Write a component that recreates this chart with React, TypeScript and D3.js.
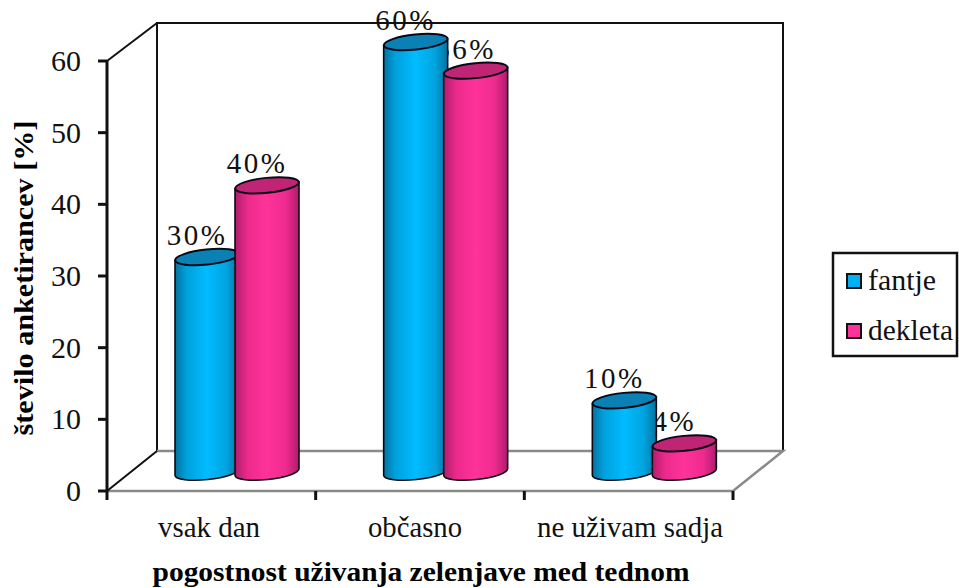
import React from "react";
import * as d3 from "d3";

const categories = ["vsak dan", "občasno", "ne uživam sadja"];
const fantje = [30, 60, 10];
const dekleta = [40, 56, 4];
const yTicks = [0, 10, 20, 30, 40, 50, 60];
const seriesNames = ["fantje", "dekleta"];
const dataLabels = [["30%", "60%", "10%"], ["40%", "56%", "4%"]];

const W = 959, H = 588;
const FRONT_L = 107, FRONT_R = 733, FRONT_B = 491, FRONT_T = 61;
const DX = 50, DY = -40;
const SERIF = "'Liberation Serif', 'Times New Roman', serif";

const y = d3.scaleLinear().domain([0, 60]).range([FRONT_B, FRONT_T]);
const x0 = d3.scaleBand<string>().domain(categories).range([FRONT_L, FRONT_R]);
const seriesStep = 60;
const cylW = 64;
const groupInset = 68;
const baseLift = 19;
const tiltDeg = -6;

function Cylinder({ left, value, id, cap }: { left: number; value: number; id: string; cap: string }) {
  const rx = cylW / 2;
  const ry = 7.5;
  const t = rx * Math.tan((-tiltDeg * Math.PI) / 180);
  const cy = y(value) - baseLift;
  const by = y(0) - baseLift;
  const cx = left + rx;
  const r = left + cylW;
  const body = `M${left},${cy + t} L${left},${by + t} A${rx},${ry} ${tiltDeg} 0 0 ${r},${by - t} L${r},${cy - t} Z`;
  return (
    <g stroke="#0a0a14" strokeWidth={1.6}>
      <path d={body} fill={`url(#${id})`} />
      <ellipse cx={cx} cy={cy} rx={rx} ry={ry} fill={cap} strokeWidth={2} transform={`rotate(${tiltDeg} ${cx} ${cy})`} />
    </g>
  );
}

export default function App() {
  const groupLeft = (c: string) => (x0(c) as number) + groupInset;
  const labelFor = (s: number, i: number) => {
    const v = (s === 0 ? fantje : dekleta)[i];
    const left = groupLeft(categories[i]) + s * seriesStep;
    return (
      <text key={`${s}-${i}`} x={left + cylW / 2 - 10} y={y(v) - baseLift - 12} textAnchor="middle"
        fontSize={29} letterSpacing={2.5} fill="#111">
        {dataLabels[s][i]}
      </text>
    );
  };
  const xTicks = [...categories.map((c) => x0(c) as number), FRONT_R];
  return (
    <svg width={W} height={H} style={{ position: "absolute", left: 0, top: 0, background: "#fff" }} fontFamily={SERIF}>
      <defs>
        <linearGradient id="blueBody" x1="0" x2="1" y1="0" y2="0">
          <stop offset="0" stopColor="#04729f" />
          <stop offset="0.18" stopColor="#00a0dc" />
          <stop offset="0.5" stopColor="#00bcff" />
          <stop offset="0.8" stopColor="#00a4e0" />
          <stop offset="1" stopColor="#05729f" />
        </linearGradient>
        <linearGradient id="pinkBody" x1="0" x2="1" y1="0" y2="0">
          <stop offset="0" stopColor="#b01c6c" />
          <stop offset="0.2" stopColor="#ec2a8c" />
          <stop offset="0.5" stopColor="#ff3399" />
          <stop offset="0.8" stopColor="#ee2a8e" />
          <stop offset="1" stopColor="#ae1c6c" />
        </linearGradient>
      </defs>

      {/* back wall */}
      <path d={`M${FRONT_L + DX},${FRONT_B + DY} V23 H${FRONT_R + DX} V${FRONT_B + DY}`}
        fill="none" stroke="#111" strokeWidth={2} />
      {/* floor */}
      <path d={`M${FRONT_L + DX},${FRONT_B + DY} H${FRONT_R + DX} L${FRONT_R},${FRONT_B} H${FRONT_L}`}
        fill="none" stroke="#8a8a8a" strokeWidth={2.5} />
      <line x1={FRONT_L} y1={FRONT_B} x2={FRONT_L + DX} y2={FRONT_B + DY} stroke="#111" strokeWidth={2} />
      <line x1={FRONT_L} y1={FRONT_T} x2={FRONT_L + DX} y2={23} stroke="#111" strokeWidth={2} />

      {/* axes and ticks */}
      <line x1={FRONT_L} x2={FRONT_L} y1={FRONT_T} y2={FRONT_B} stroke="#111" strokeWidth={3} />
      {yTicks.map((t) => (
        <g key={t}>
          <line x1={FRONT_L - 9} x2={FRONT_L} y1={y(t)} y2={y(t)} stroke="#111" strokeWidth={3} />
          <text x={81} y={y(t) + 10} textAnchor="end" fontSize={30} fill="#111">{t}</text>
        </g>
      ))}
      {xTicks.map((t) => (
        <line key={t} x1={t} x2={t} y1={FRONT_B} y2={FRONT_B + 9} stroke="#111" strokeWidth={3} />
      ))}

      {/* the 56% label sits behind the neighbouring blue column */}
      {dataLabels[1].map((_, i) => labelFor(1, i))}

      {categories.map((c, i) => (
        <g key={c}>
          <Cylinder left={groupLeft(c)} value={fantje[i]} id="blueBody" cap="#0a80b4" />
          <Cylinder left={groupLeft(c) + seriesStep} value={dekleta[i]} id="pinkBody" cap="#c02474" />
        </g>
      ))}

      {dataLabels[0].map((_, i) => labelFor(0, i))}

      {/* category labels */}
      {categories.map((c, i) => (
        <text key={c} x={[209, 415, 630][i]} y={537} textAnchor="middle" fontSize={29} fill="#111"
          textLength={[102, 94, 186][i]} lengthAdjust="spacingAndGlyphs">{c}</text>
      ))}
      <text x={421} y={581} textAnchor="middle" fontSize={28} fontWeight="bold" fill="#000"
        textLength={537} lengthAdjust="spacingAndGlyphs">pogostnost uživanja zelenjave med tednom</text>
      <text transform="translate(33,278) rotate(-90)" textAnchor="middle" fontSize={28} fontWeight="bold" fill="#000"
        textLength={315} lengthAdjust="spacingAndGlyphs">število anketirancev [%]</text>

      {/* legend */}
      <rect x={833} y={253} width={124} height={103} fill="#fff" stroke="#111" strokeWidth={2.5} />
      {seriesNames.map((n, i) => (
        <g key={n}>
          <rect x={847} y={274 + i * 50} width={14} height={14} stroke="#111" strokeWidth={2}
            fill={i === 0 ? "#00b0f0" : "#ff3399"} />
          <text x={868} y={290 + i * 50} fontSize={29} fill="#111" textLength={i === 0 ? 68 : 85}
            lengthAdjust="spacingAndGlyphs">{n}</text>
        </g>
      ))}
    </svg>
  );
}
